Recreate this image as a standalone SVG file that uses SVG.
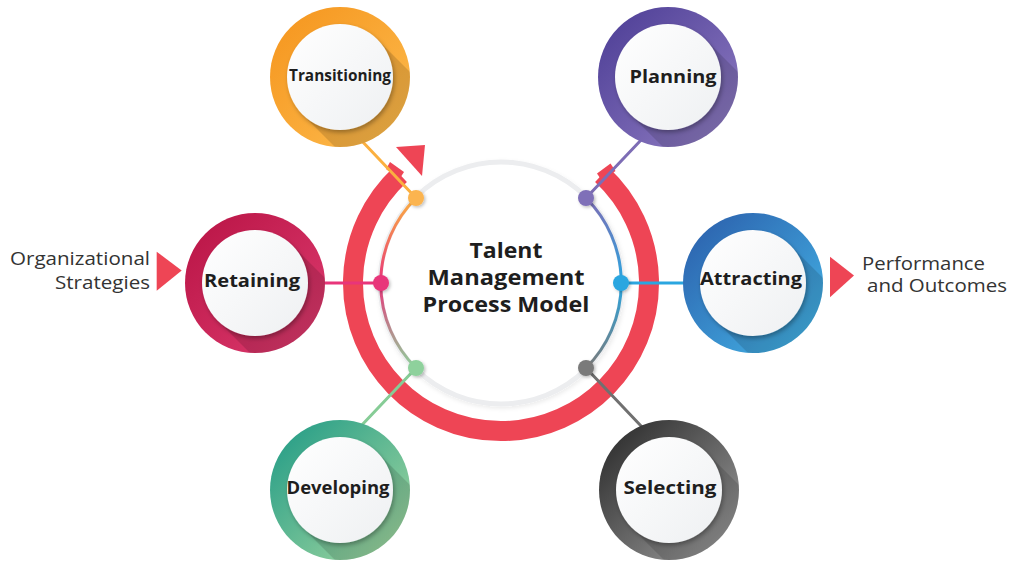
<svg xmlns="http://www.w3.org/2000/svg" width="1010" height="561" viewBox="0 0 1010 561">
  <style>
    .node-label { font-family: "Open Sans", "Liberation Sans", sans-serif; font-weight: 700; fill: #1e1e1e; text-anchor: middle; }
    .center-label { font-family: "Open Sans", "Liberation Sans", sans-serif; font-weight: 700; font-size: 21px; fill: #1e1e1e; text-anchor: middle; }
    .side-label { font-family: "Open Sans", "Liberation Sans", sans-serif; font-weight: 400; font-size: 18px; fill: #333333; }
    .inner { fill: url(#gInner); filter: url(#innerShadow); }
    .lshadow { fill: #000000; fill-opacity: 0.13; }
    .conn { fill: none; stroke-width: 3; stroke-linecap: round; }
    .dot { filter: url(#dotShadow); }
    .red { fill: #EE4555; }
  </style>
  <defs>
    <linearGradient id="gT" x1="0" y1="0" x2="1" y2="1"><stop offset="0" stop-color="#F5941C"/><stop offset="1" stop-color="#FDBD50"/></linearGradient>
    <linearGradient id="gP" x1="0" y1="0" x2="1" y2="1"><stop offset="0" stop-color="#4A3B94"/><stop offset="1" stop-color="#927FC4"/></linearGradient>
    <linearGradient id="gR" x1="0" y1="0" x2="1" y2="1"><stop offset="0" stop-color="#B81344"/><stop offset="1" stop-color="#DE3C70"/></linearGradient>
    <linearGradient id="gA" x1="0" y1="0" x2="1" y2="1"><stop offset="0" stop-color="#2A5BA9"/><stop offset="1" stop-color="#45B8E9"/></linearGradient>
    <linearGradient id="gD" x1="0" y1="0" x2="1" y2="1"><stop offset="0" stop-color="#1D9985"/><stop offset="1" stop-color="#A8DAA1"/></linearGradient>
    <linearGradient id="gS" x1="0" y1="0" x2="1" y2="1"><stop offset="0" stop-color="#242424"/><stop offset="1" stop-color="#A2A2A2"/></linearGradient>
    <linearGradient id="gInner" x1="0" y1="0" x2="1" y2="1"><stop offset="0" stop-color="#FFFFFF"/><stop offset="1" stop-color="#EEF0F2"/></linearGradient>
    <linearGradient id="gLeftArc" gradientUnits="userSpaceOnUse" x1="0" y1="198" x2="0" y2="368"><stop offset="0" stop-color="#FBB040"/><stop offset="0.5" stop-color="#E8357A"/><stop offset="1" stop-color="#8ED19C"/></linearGradient>
    <linearGradient id="gRightArc" gradientUnits="userSpaceOnUse" x1="0" y1="198" x2="0" y2="368"><stop offset="0" stop-color="#7D6DB5"/><stop offset="0.5" stop-color="#2AA6E0"/><stop offset="1" stop-color="#7A7A7A"/></linearGradient>
    <clipPath id="ringClip"><circle cx="0" cy="0" r="70"/></clipPath>
    <filter id="innerShadow" x="-30%" y="-30%" width="160%" height="160%"><feDropShadow dx="1.5" dy="2.5" stdDeviation="2" flood-color="#000" flood-opacity="0.3"/></filter>
    <filter id="dotShadow" x="-60%" y="-60%" width="220%" height="220%"><feDropShadow dx="1.5" dy="1.5" stdDeviation="1.5" flood-color="#000" flood-opacity="0.25"/></filter>
    <filter id="ringShadow" x="-10%" y="-10%" width="120%" height="120%"><feDropShadow dx="1" dy="2" stdDeviation="2" flood-color="#000" flood-opacity="0.08"/></filter>
  </defs>

  <!-- central ring structure -->
  <g id="center">
    <path d="M400.1,174.8 A148,148 0 1 0 601.9,174.8" fill="none" stroke="#EE4555" stroke-width="20"/>
    <polygon class="red" points="390,162 404,172 399.5,179 386,169"/>
    <polygon class="red" points="597,173.5 610.5,163.5 615.5,171 602,181"/>
    <polygon class="red" points="396,147 425,145 422,176"/>
    <circle cx="501" cy="283" r="121" fill="#FFFFFF" stroke="#ECEDEF" stroke-width="5" filter="url(#ringShadow)"/>
    <text class="center-label" x="506" y="258" textLength="73" lengthAdjust="spacingAndGlyphs">Talent</text>
    <text class="center-label" x="506" y="285" textLength="157" lengthAdjust="spacingAndGlyphs">Management</text>
    <text class="center-label" x="506" y="311.5" textLength="167" lengthAdjust="spacingAndGlyphs">Process Model</text>
  </g>

  <!-- connectors -->
  <g id="connectors">
    <path class="conn" d="M416,198 A120,120 0 0 0 416,368" stroke="url(#gLeftArc)"/>
    <path class="conn" d="M586,198 A120,120 0 0 1 586,368" stroke="url(#gRightArc)"/>
    <line class="conn" x1="416" y1="198" x2="360" y2="139" stroke="#FBB040"/>
    <line class="conn" x1="586" y1="198" x2="642" y2="139" stroke="#7D6DB5"/>
    <line class="conn" x1="381" y1="283" x2="322" y2="283" stroke="#E8357A"/>
    <line class="conn" x1="621" y1="283" x2="686" y2="283" stroke="#2AA6E0"/>
    <line class="conn" x1="416" y1="368" x2="360" y2="427" stroke="#86CC96"/>
    <line class="conn" x1="586" y1="368" x2="642" y2="427" stroke="#707070"/>
    <circle class="dot" cx="416" cy="198" r="8" fill="#FBB450"/>
    <circle class="dot" cx="586" cy="198" r="8" fill="#7F70B8"/>
    <circle class="dot" cx="381" cy="283" r="8" fill="#E8357A"/>
    <circle class="dot" cx="621" cy="283" r="8" fill="#2AA6E0"/>
    <circle class="dot" cx="416" cy="368" r="8" fill="#8ED19C"/>
    <circle class="dot" cx="586" cy="368" r="8" fill="#7A7A7A"/>
  </g>

  <!-- nodes -->
  <g id="node-transitioning" transform="translate(340,77)">
    <circle r="70" fill="url(#gT)"/>
    <polygon class="lshadow" points="37.5,-37.5 137.5,62.5 62.5,137.5 -37.5,37.5" clip-path="url(#ringClip)"/>
    <circle class="inner" r="53"/>
    <text class="node-label" x="0" y="4" font-size="15.5" textLength="102" lengthAdjust="spacingAndGlyphs">Transitioning</text>
  </g>
  <g id="node-planning" transform="translate(668,77)">
    <circle r="70" fill="url(#gP)"/>
    <polygon class="lshadow" points="37.5,-37.5 137.5,62.5 62.5,137.5 -37.5,37.5" clip-path="url(#ringClip)"/>
    <circle class="inner" r="53"/>
    <text class="node-label" x="5" y="6" font-size="18.5" textLength="87" lengthAdjust="spacingAndGlyphs">Planning</text>
  </g>
  <g id="node-retaining" transform="translate(255,283)">
    <circle r="70" fill="url(#gR)"/>
    <polygon class="lshadow" points="37.5,-37.5 137.5,62.5 62.5,137.5 -37.5,37.5" clip-path="url(#ringClip)"/>
    <circle class="inner" r="53"/>
    <text class="node-label" x="-3" y="4.3" font-size="18.5" textLength="96" lengthAdjust="spacingAndGlyphs">Retaining</text>
  </g>
  <g id="node-attracting" transform="translate(753,283)">
    <circle r="70" fill="url(#gA)"/>
    <polygon class="lshadow" points="37.5,-37.5 137.5,62.5 62.5,137.5 -37.5,37.5" clip-path="url(#ringClip)"/>
    <circle class="inner" r="53"/>
    <text class="node-label" x="-2" y="2" font-size="18.5" textLength="102" lengthAdjust="spacingAndGlyphs">Attracting</text>
  </g>
  <g id="node-developing" transform="translate(340,490)">
    <circle r="70" fill="url(#gD)"/>
    <polygon class="lshadow" points="37.5,-37.5 137.5,62.5 62.5,137.5 -37.5,37.5" clip-path="url(#ringClip)"/>
    <circle class="inner" r="53"/>
    <text class="node-label" x="-2" y="4.3" font-size="18.5" textLength="103" lengthAdjust="spacingAndGlyphs">Developing</text>
  </g>
  <g id="node-selecting" transform="translate(669,490)">
    <circle r="70" fill="url(#gS)"/>
    <polygon class="lshadow" points="37.5,-37.5 137.5,62.5 62.5,137.5 -37.5,37.5" clip-path="url(#ringClip)"/>
    <circle class="inner" r="53"/>
    <text class="node-label" x="1" y="4" font-size="18.5" textLength="93" lengthAdjust="spacingAndGlyphs">Selecting</text>
  </g>

  <!-- side inputs / outputs -->
  <g id="input-organizational">
    <text class="side-label" x="150" y="265" text-anchor="end" textLength="140" lengthAdjust="spacingAndGlyphs">Organizational</text>
    <text class="side-label" x="150" y="288.5" text-anchor="end" textLength="95" lengthAdjust="spacingAndGlyphs">Strategies</text>
    <polygon class="red" points="156.7,251.7 181.7,270.5 156.7,290.7"/>
  </g>
  <g id="output-performance">
    <polygon class="red" points="830,256.7 854,275.5 830,297.3"/>
    <text class="side-label" x="862" y="270" textLength="123" lengthAdjust="spacingAndGlyphs">Performance</text>
    <text class="side-label" x="867" y="292" textLength="140" lengthAdjust="spacingAndGlyphs">and Outcomes</text>
  </g>
</svg>
